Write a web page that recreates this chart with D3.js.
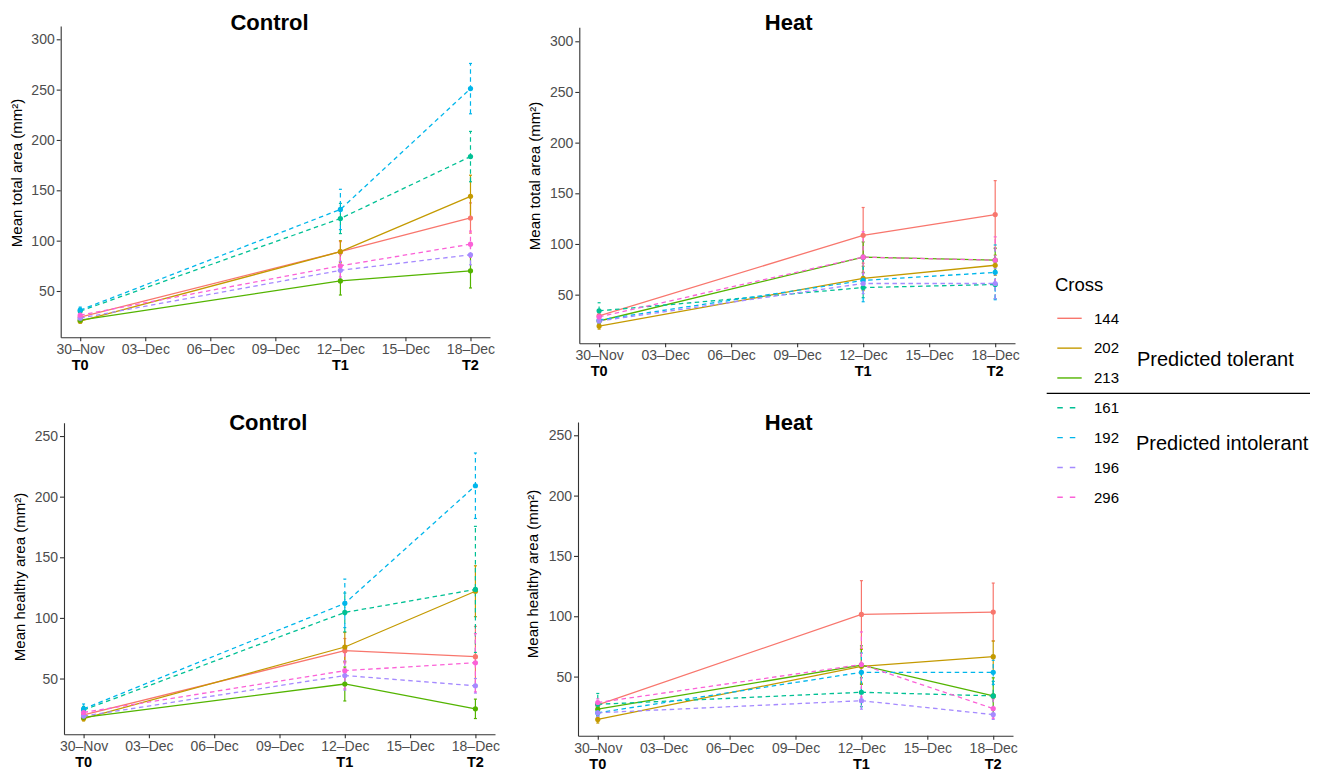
<!DOCTYPE html>
<html>
<head>
<meta charset="utf-8">
<script src="https://cdn.jsdelivr.net/npm/d3@7"></script>
<style>
  body { margin: 0; background: #fff; }
  svg { display: block; font-family: "Liberation Sans", Arial, sans-serif; }
</style>
</head>
<body>
<div id="chart"></div>
<script>
// crosses, in the legend's order
const crosses = ["144", "202", "213", "161", "192", "196", "296"];
const crossColors = ["#F8766D", "#C49A00", "#53B400", "#00C094", "#00B6EB", "#A58AFF", "#FB61D7"];
const tolerant = ["144", "202", "213"];

const sampleDates = ["2023-11-30", "2023-12-12", "2023-12-18"];
const sampleLabels = ["T0", "T1", "T2"];
const dateTicks = ["2023-11-30", "2023-12-03", "2023-12-06", "2023-12-09", "2023-12-12", "2023-12-15", "2023-12-18"];
const totalTicks = [50, 100, 150, 200, 250, 300];
const healthyTicks = [50, 100, 150, 200, 250];

// rows follow `crosses`, columns follow `sampleDates`
const controlTotalMean = [
  [24, 89, 122.5], [20, 89, 144], [21, 60, 70],
  [30, 122, 183.5], [31, 131, 251], [23, 70.5, 86], [26, 75, 96.5]
];
const controlTotalSE = [
  [2, 10, 15], [2, 11, 21], [2, 14, 17],
  [3, 15, 25], [3, 20, 25], [2, 9, 10], [2, 11, 13]
];
const heatTotalMean = [
  [29, 108.5, 129], [19, 66, 79], [24, 87, 84],
  [34, 57, 60], [25, 64, 72], [24, 61, 61], [28, 87, 84]
];
const heatTotalSE = [
  [3, 27.5, 33.5], [3, 12, 10], [3, 15, 12],
  [8, 10, 14], [3, 21, 27], [3, 10, 15], [3, 25, 23]
];
const controlHealthyMean = [
  [20, 73, 68], [17, 76, 122], [18, 45.5, 25],
  [24, 104.5, 123.5], [25, 112, 209], [19, 52.5, 44], [22, 56.5, 63]
];
const controlHealthySE = [
  [2, 10, 25], [2, 12, 21], [2, 14, 8],
  [3, 16, 52], [4, 20, 27], [2, 12, 6], [2, 15, 24]
];
const heatHealthyMean = [
  [26.5, 101.5, 103.5], [14.5, 58.5, 66.5], [23, 59.5, 34],
  [27, 37, 34], [20, 53.5, 53.5], [20, 30, 18.5], [28.5, 60, 23.5]
];
const heatHealthySE = [
  [3, 28, 24], [3, 14, 13], [3, 16, 15],
  [9, 12, 12], [3, 16, 10], [3, 7, 4], [3, 27, 8]
];

const width = 1322, height = 773;
const parseDate = d3.utcParse("%Y-%m-%d");
const fmtDate = d3.utcFormat("%d-%b");

const svg = d3.select("#chart").append("svg")
  .attr("width", width).attr("height", height)
  .attr("viewBox", `0 0 ${width} ${height}`);

// panel layout
const panels = [
  { title: "Control", ylab: "Mean total area (mm²)", mean: controlTotalMean, se: controlTotalSE, ticks: totalTicks,
    left: 60.7, right: 490, top: 26, bottom: 337.3, ymin: 4, ymax: 313.2, titleX: 269.5, titleY: 30, ylabX: 17, ylabY: 173 },
  { title: "Heat", ylab: "Mean total area (mm²)", mean: heatTotalMean, se: heatTotalSE, ticks: totalTicks,
    left: 579.3, right: 1015, top: 27.3, bottom: 343.3, ymin: 2, ymax: 313.8, titleX: 788.7, titleY: 30, ylabX: 535, ylabY: 176 },
  { title: "Control", ylab: "Mean healthy area (mm²)", mean: controlHealthyMean, se: controlHealthySE, ticks: healthyTicks,
    left: 64, right: 495, top: 422.7, bottom: 734.3, ymin: 4, ymax: 261, titleX: 268.3, titleY: 430, ylabX: 20, ylabY: 577 },
  { title: "Heat", ylab: "Mean healthy area (mm²)", mean: heatHealthyMean, se: heatHealthySE, ticks: healthyTicks,
    left: 578, right: 1013, top: 422, bottom: 735.7, ymin: 1, ymax: 261, titleX: 788.7, titleY: 430, ylabX: 533, ylabY: 574 }
];

const dashOf = c => tolerant.includes(c) ? null : "4.5,3.5";

panels.forEach(p => {
  const first = parseDate(sampleDates[0]);
  const last = parseDate(sampleDates[sampleDates.length - 1]);
  const pad = (last - first) * 0.05;
  const x = d3.scaleUtc()
    .domain([new Date(+first - pad), new Date(+last + pad)])
    .range([p.left, p.right]);
  const y = d3.scaleLinear()
    .domain([p.ymin, p.ymax])
    .range([p.bottom, p.top]);

  const g = svg.append("g");

  // axes
  const xAxis = g.append("g")
    .attr("transform", `translate(0,${p.bottom})`)
    .call(d3.axisBottom(x)
      .tickValues(dateTicks.map(parseDate))
      .tickFormat(d => fmtDate(d).replace("-", "–"))
      .tickSize(4).tickPadding(3).tickSizeOuter(0));
  const yAxis = g.append("g")
    .attr("transform", `translate(${p.left},0)`)
    .call(d3.axisLeft(y).tickValues(p.ticks).tickSize(4).tickPadding(2).tickSizeOuter(0));

  [xAxis, yAxis].forEach(a => {
    a.select(".domain").attr("stroke", "#333").attr("stroke-width", 1.1);
    a.selectAll(".tick line").attr("stroke", "#333").attr("stroke-width", 1.1);
    a.selectAll(".tick text")
      .attr("fill", "#4D4D4D")
      .style("font-size", "14px")
      .style("font-family", "'Liberation Sans', Arial, sans-serif");
  });

  // T0/T1/T2 labels under the sampling dates
  g.selectAll(".tlab").data(sampleDates).enter().append("text")
    .attr("x", d => x(parseDate(d)))
    .attr("y", p.bottom + 33)
    .attr("text-anchor", "middle")
    .style("font-size", "14.5px").style("font-weight", "bold")
    .attr("fill", "#000")
    .text((d, i) => sampleLabels[i]);

  // titles
  g.append("text")
    .attr("x", p.titleX).attr("y", p.titleY)
    .attr("text-anchor", "middle")
    .style("font-size", "22px").style("font-weight", "bold")
    .text(p.title);
  g.append("text")
    .attr("transform", `translate(${p.ylabX},${p.ylabY}) rotate(-90)`)
    .attr("text-anchor", "middle")
    .attr("dy", "0.35em")
    .style("font-size", "15px")
    .text(p.ylab);

  const series = crosses.map((c, i) => ({
    cross: c,
    color: crossColors[i],
    pts: sampleDates.map((d, j) => ({ date: parseDate(d), m: p.mean[i][j], se: p.se[i][j] }))
  }));

  // error bars
  series.forEach(s => {
    const eb = g.append("g");
    s.pts.forEach(pt => {
      const cx = x(pt.date);
      eb.append("line")
        .attr("x1", cx).attr("x2", cx)
        .attr("y1", y(pt.m - pt.se)).attr("y2", y(pt.m + pt.se))
        .attr("stroke", s.color).attr("stroke-width", 1.2)
        .attr("stroke-dasharray", dashOf(s.cross));
      [pt.m - pt.se, pt.m + pt.se].forEach(v => {
        eb.append("line")
          .attr("x1", cx - 1.5).attr("x2", cx + 1.5)
          .attr("y1", y(v)).attr("y2", y(v))
          .attr("stroke", s.color).attr("stroke-width", 1.2);
      });
    });
  });

  // lines
  const line = d3.line().x(d => x(d.date)).y(d => y(d.m));
  series.forEach(s => {
    g.append("path")
      .datum(s.pts)
      .attr("fill", "none")
      .attr("stroke", s.color)
      .attr("stroke-width", 1.3)
      .attr("stroke-dasharray", dashOf(s.cross))
      .attr("d", line);
  });

  // points
  series.forEach(s => {
    g.selectAll(null).data(s.pts).enter().append("circle")
      .attr("cx", d => x(d.date))
      .attr("cy", d => y(d.m))
      .attr("r", 2.6)
      .attr("fill", s.color);
  });
});

// legend
const legend = svg.append("g");
legend.append("text")
  .attr("x", 1055).attr("y", 291)
  .style("font-size", "18.5px")
  .text("Cross");

const legendY = d3.scalePoint().domain(crosses).range([318.3, 497.3]);
crosses.forEach((c, i) => {
  legend.append("line")
    .attr("x1", 1057.3).attr("x2", 1081.7)
    .attr("y1", legendY(c)).attr("y2", legendY(c))
    .attr("stroke", crossColors[i]).attr("stroke-width", 1.4)
    .attr("stroke-dasharray", tolerant.includes(c) ? null : "5.5,7");
  legend.append("text")
    .attr("x", 1094).attr("y", legendY(c))
    .attr("dy", "0.35em")
    .style("font-size", "15px")
    .text(c);
});
legend.append("line")
  .attr("x1", 1046.7).attr("x2", 1310)
  .attr("y1", 393.3).attr("y2", 393.3)
  .attr("stroke", "#000").attr("stroke-width", 1.3);
legend.append("text")
  .attr("x", 1137).attr("y", 359.3).attr("dy", "0.35em")
  .style("font-size", "20px")
  .text("Predicted tolerant");
legend.append("text")
  .attr("x", 1136).attr("y", 443.3).attr("dy", "0.35em")
  .style("font-size", "20px")
  .text("Predicted intolerant");
</script>
</body>
</html>
